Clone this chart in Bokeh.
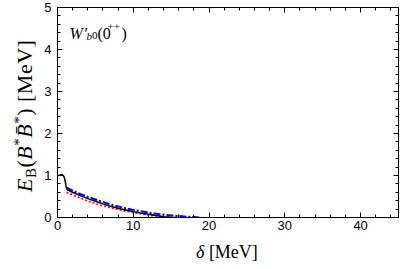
from bokeh.plotting import figure
from bokeh.models import Label, LinearAxis, FixedTicker, Range1d, Div
from bokeh.layouts import row, column
from bokeh.embed import file_html
from bokeh.resources import INLINE

# ---- data ----
delta_black = [0, 0.3, 0.6, 0.85, 1.0, 1.15, 1.3, 2, 3, 4, 5, 6, 7, 8, 9, 10, 11, 12, 13, 14, 15, 16]
eb_black = [0.99, 1.01, 1.02, 0.98, 0.88, 0.72, 0.66, 0.60, 0.52, 0.45, 0.385, 0.325, 0.27, 0.22, 0.18, 0.14, 0.105, 0.075, 0.045, 0.02, 0.006, 0.0]

delta_blue = [1.2, 2, 3, 4, 5, 6, 7, 8, 9, 10, 11, 12, 13, 14, 15, 16, 17, 18, 19]
eb_blue = [0.71, 0.64, 0.56, 0.49, 0.43, 0.37, 0.31, 0.265, 0.22, 0.18, 0.15, 0.12, 0.09, 0.07, 0.05, 0.035, 0.02, 0.01, 0.0]

delta_red = [1.2, 2, 3, 4, 5, 6, 7, 8, 9, 10, 11, 12, 13, 14, 15]
eb_red = [0.60, 0.54, 0.46, 0.39, 0.33, 0.28, 0.23, 0.19, 0.15, 0.12, 0.09, 0.06, 0.035, 0.015, 0.0]

x_major = [0, 10, 20, 30, 40]
x_minor = [v for v in range(0, 46, 2)]
y_major = [0, 1, 2, 3, 4, 5]
y_minor = [round(0.2 * i, 1) for i in range(0, 26)]

SERIF = "Liberation Serif"
SANS = "Liberation Sans"

p = figure(width=375, height=235, output_backend="svg", toolbar_location=None,
           x_range=Range1d(0, 45), y_range=Range1d(0, 5),
           min_border_left=17, min_border_right=17, min_border_top=7, min_border_bottom=18)
p.grid.visible = False
p.outline_line_color = "black"
p.outline_line_width = 1
p.background_fill_color = "white"
p.border_fill_color = "white"

def style_axis(ax, major, minor):
    ax.ticker = FixedTicker(ticks=major, minor_ticks=minor)
    ax.major_tick_in = 5
    ax.major_tick_out = 0
    ax.minor_tick_in = 3
    ax.minor_tick_out = 0
    ax.axis_line_color = "black"
    ax.major_tick_line_color = "black"
    ax.minor_tick_line_color = "black"
    ax.major_label_text_font = SANS
    ax.major_label_text_font_size = "13px"
    ax.major_label_text_color = "black"

style_axis(p.xaxis[0], x_major, x_minor)
style_axis(p.yaxis[0], y_major, y_minor)
p.xaxis[0].major_label_standoff = 3
p.yaxis[0].major_label_standoff = 6

def tick_only_axis(ticks, length, line=True):
    ax = LinearAxis(ticker=FixedTicker(ticks=[], minor_ticks=ticks))
    ax.minor_tick_in = length
    ax.minor_tick_out = 0
    ax.major_tick_in = 0
    ax.major_tick_out = 0
    ax.major_label_standoff = 0
    ax.minor_tick_line_color = "black"
    ax.axis_line_color = "black" if line else None
    return ax

p.add_layout(tick_only_axis(x_minor, 3), "above")
p.add_layout(tick_only_axis(y_minor, 3), "right")
p.add_layout(tick_only_axis(x_major, 5, line=False), "above")
p.add_layout(tick_only_axis(y_major, 5, line=False), "right")

p.line(delta_red, eb_red, line_color="#ff0000", line_width=1.6, line_dash="2 2")
p.line(delta_blue, eb_blue, line_color="#0000ff", line_width=2, line_dash="7 2 2 2")
p.line(delta_black, eb_black, line_color="black", line_width=1.5)

def lab(text, dx, dy, size, italic=False):
    p.add_layout(Label(x=0, y=5, x_offset=dx, y_offset=dy, text=text,
                       text_font=SERIF, text_font_size=f"{size}px",
                       text_font_style="italic" if italic else "normal",
                       text_color="black", text_baseline="alphabetic",
                       text_align="left"))

# title inside the frame, anchored at its top-left corner (0, 5)
lab("W", 12, -26, 16, italic=True)
lab("\u2032", 27, -26, 16)
lab("b", 29, -28, 11, italic=True)
lab("0", 34.5, -28, 11)
lab("(0", 40, -26, 16)
lab("++", 50, -19, 11)
lab(")", 64, -26, 16)

sub = "font-size:15px;line-height:0;vertical-align:-4px;font-style:normal;"
sup = "font-size:15px;line-height:0;vertical-align:8px;"
ylabel_html = (
    "<span style=\"display:inline-block;white-space:nowrap;transform-origin:0 0;"
    "transform:translate(12px,192px) rotate(-90deg);font-family:'Liberation Serif';"
    "font-size:22px;line-height:25px;letter-spacing:0.5px;color:black;\">"
    "<i>E</i><span style=\"" + sub + "\">B</span>(<i>B</i><span style=\"" + sup + "\">*</span>"
    "<i>B\u0304</i><span style=\"" + sup + "\">*</span>) [MeV]</span>"
)
ydiv = Div(text=ylabel_html, width=40, height=235, margin=(0, 0, 0, 0))

xlabel_html = (
    "<div style=\"padding-left:196px;padding-top:7px;white-space:nowrap;"
    "font-family:'Liberation Serif';font-size:18px;line-height:21px;color:black;\">"
    "<i>\u03b4</i> [MeV]</div>"
)
xdiv = Div(text=xlabel_html, width=415, height=34, margin=(0, 0, 0, 0))

layout = column(row(ydiv, p), xdiv)

open("out.html", "w").write(file_html(layout, INLINE))
